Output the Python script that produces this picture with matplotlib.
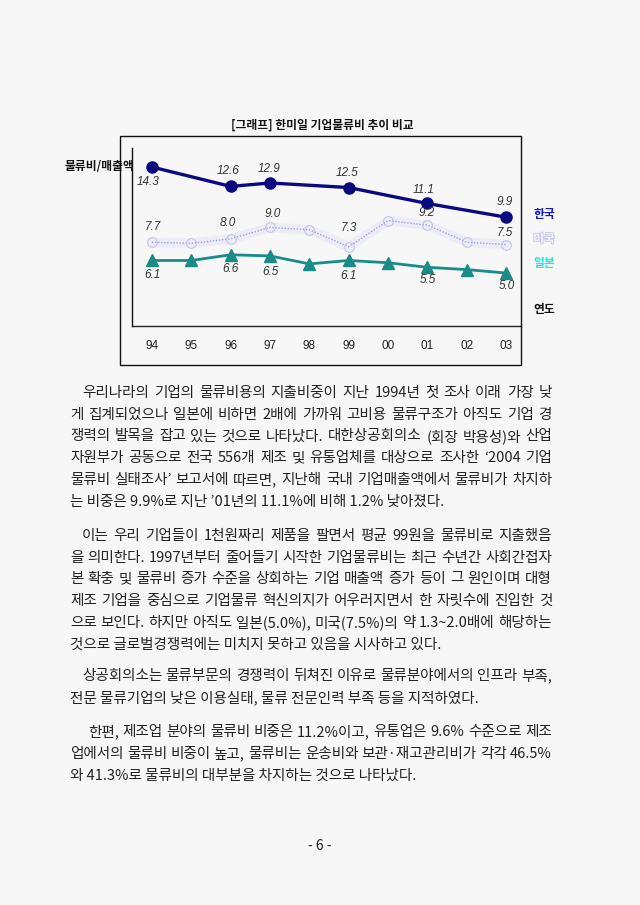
import matplotlib
matplotlib.use("Agg")
import matplotlib.pyplot as plt
import matplotlib.patheffects as pe
from matplotlib.patches import Rectangle

plt.rcParams['font.family'] = ['Noto Sans CJK KR', 'DejaVu Sans']

# ---------------- data ----------------
years = ['94', '95', '96', '97', '98', '99', '00', '01', '02', '03']
korea_years = ['94', '96', '97', '99', '01', '03']
korea = [14.3, 12.6, 12.9, 12.5, 11.1, 9.9]
usa = [7.7, 7.6, 8.0, 9.0, 8.8, 7.3, 9.6, 9.2, 7.7, 7.5]
japan = [6.1, 6.1, 6.6, 6.5, 5.8, 6.1, 5.9, 5.5, 5.3, 5.0]
label_years = ['94', '96', '97', '99', '01', '03']

title = '[그래프] 한미일 기업물류비 추이 비교'
ylabel = '물류비/매출액'
xlabel = '연도'
series_names = ['한국', '미국', '일본']

paragraphs = [
    ["우리나라의 기업의 물류비용의 지출비중이 지난 1994년 첫 조사 이래 가장 낮",
     "게 집계되었으나 일본에 비하면 2배에 가까워 고비용 물류구조가 아직도 기업 경",
     "쟁력의 발목을 잡고 있는 것으로 나타났다. 대한상공회의소 (회장 박용성)와 산업",
     "자원부가 공동으로 전국 556개 제조 및 유통업체를 대상으로 조사한 ‘2004 기업",
     "물류비 실태조사’ 보고서에 따르면, 지난해 국내 기업매출액에서 물류비가 차지하",
     "는 비중은 9.9%로 지난 ’01년의 11.1%에 비해 1.2% 낮아졌다."],
    ["이는 우리 기업들이 1천원짜리 제품을 팔면서 평균 99원을 물류비로 지출했음",
     "을 의미한다. 1997년부터 줄어들기 시작한 기업물류비는 최근 수년간 사회간접자",
     "본 확충 및 물류비 증가 수준을 상회하는 기업 매출액 증가 등이 그 원인이며 대형",
     "제조 기업을 중심으로 기업물류 혁신의지가 어우러지면서 한 자릿수에 진입한 것",
     "으로 보인다. 하지만 아직도 일본(5.0%), 미국(7.5%)의 약 1.3~2.0배에 해당하는",
     "것으로 글로벌경쟁력에는 미치지 못하고 있음을 시사하고 있다."],
    ["상공회의소는 물류부문의 경쟁력이 뒤쳐진 이유로 물류분야에서의 인프라 부족,",
     "전문 물류기업의 낮은 이용실태, 물류 전문인력 부족 등을 지적하였다."],
    ["한편, 제조업 분야의 물류비 비중은 11.2%이고, 유통업은 9.6% 수준으로 제조",
     "업에서의 물류비 비중이 높고, 물류비는 운송비와 보관·재고관리비가 각각 46.5%",
     "와 41.3%로 물류비의 대부분을 차지하는 것으로 나타났다."],
]
page_number = '- 6 -'

# ---------------- figure ----------------
W, H = 640, 905
BG = '#f7f7f7'
fig = plt.figure(figsize=(W / 100, H / 100), dpi=100, facecolor=BG)


def fx(px):
    return px / W


def fy(py):
    return 1 - py / H


# outer chart frame
fig.patches.append(Rectangle((fx(120), fy(365)), fx(521) - fx(120), fy(136) - fy(365),
                             transform=fig.transFigure, fill=False,
                             edgecolor='#111111', linewidth=1.0))

fig.text(fx(322), fy(125), title, ha='center', va='center', fontsize=8.5,
         fontweight='bold', color='#111111')

ax = fig.add_axes([fx(132), fy(326), fx(521) - fx(132), fy(148) - fy(326)])
ax.set_facecolor('none')
xi = {y: i for i, y in enumerate(years)}
ax.set_xlim(-0.508, 9.38)
ax.set_ylim(0.35, 15.97)
for s in ['top', 'right']:
    ax.spines[s].set_visible(False)
ax.spines['left'].set_color('#111111')
ax.spines['left'].set_linewidth(1.0)
ax.spines['bottom'].set_color('#222222')
ax.spines['bottom'].set_linewidth(1.0)
ax.spines['bottom'].set_linestyle((0, (1, 1)))
ax.set_yticks([])
ax.set_xticks(range(len(years)))
ax.set_xticklabels(years, family='Liberation Sans', fontsize=8.5, color='#222222')
ax.tick_params(axis='x', length=0, pad=10)

# USA: faint, blurry dotted line
xu = [xi[y] for y in years]
ax.plot(xu, usa, color='#ececf7', lw=7, solid_capstyle='round', zorder=1)
ax.plot(xu, usa, color='#a0a0da', lw=1.0, ls=(0, (1, 1.2)), zorder=2)
ax.plot(xu, usa, ls='none', marker='o', ms=7, mfc='none', mec='#c4c4ea',
        mew=0.8, zorder=2)

# Japan
ax.plot(xu, japan, color='#1a8c88', lw=2.0, marker='^', ms=8.5, mfc='#1a8c88',
        mec='#1a8c88', zorder=3)

# Korea
xk = [xi[y] for y in korea_years]
ax.plot(xk, korea, color='#0a0a80', lw=2.4, marker='o', ms=8, mfc='#0a0a80',
        mec='#0a0a80', zorder=4)

lab_style = dict(fontsize=8.5, style='italic', family='Liberation Sans',
                 color='#333333', ha='center', va='center', zorder=5)
k_off = [(-4, -15), (-3, 15), (-1, 14), (-2, 15), (-4, 13), (-1, 15)]
u_off = [(1, 15), (-3, 16), (3, 13), (0, 19), (-1, 12), (-1, 12)]
j_off = [(0, -15), (0, -14), (0, -16), (0, -16), (0, -13), (1, -13)]
for y, v, o in zip(korea_years, korea, k_off):
    ax.annotate(f'{v:.1f}', (xi[y], v), xytext=(o[0] * 0.72, o[1] * 0.72),
                textcoords='offset points', **lab_style)
for y, o in zip(label_years, u_off):
    v = usa[xi[y]]
    ax.annotate(f'{v:.1f}', (xi[y], v), xytext=(o[0] * 0.72, o[1] * 0.72),
                textcoords='offset points', **lab_style)
for y, o in zip(label_years, j_off):
    v = japan[xi[y]]
    ax.annotate(f'{v:.1f}', (xi[y], v), xytext=(o[0] * 0.72, o[1] * 0.72),
                textcoords='offset points', **lab_style)

# series name labels on the right
fig.text(fx(544), fy(214), series_names[0], ha='center', va='center', fontsize=8.5,
         fontweight='bold', color='#1414c8')
fig.text(fx(544), fy(239), series_names[1], ha='center', va='center', fontsize=8.5,
         fontweight='bold', color='#f4f4fb',
         path_effects=[pe.withStroke(linewidth=1.2, foreground='#c4c4ea')])
fig.text(fx(544), fy(264), series_names[2], ha='center', va='center', fontsize=8.5,
         fontweight='bold', color='#10e8ec')
fig.text(fx(544), fy(310), xlabel, ha='center', va='center', fontsize=8.5,
         fontweight='bold', color='#111111')
fig.text(fx(65), fy(167), ylabel, ha='left', va='center', fontsize=8.5,
         fontweight='bold', color='#111111')

# ---------------- body text (justified) ----------------
renderer = fig.canvas.get_renderer()
TXT = dict(fontsize=10.5, color='#222222', va='center', ha='left')


def text_width(s):
    t = fig.text(0, 0, s, **TXT)
    w = t.get_window_extent(renderer).width
    t.remove()
    return w


def draw_line(s, x0, x1, y, justify):
    if not justify:
        fig.text(fx(x0), fy(y), s, **TXT)
        return
    words = s.split(' ')
    widths = [text_width(w) for w in words]
    gap = (x1 - x0 - sum(widths)) / max(len(words) - 1, 1)
    x = x0
    for w, wd in zip(words, widths):
        fig.text(fx(x), fy(y), w, **TXT)
        x += wd + gap


LEFT, RIGHT = 70, 552
para_y = [393, 536, 676, 732]
indent = [82, 82, 82, 88]
LS = 21.7
for p, y0, ind in zip(paragraphs, para_y, indent):
    for i, line in enumerate(p):
        x0 = ind if i == 0 else LEFT
        draw_line(line, x0, RIGHT, y0 + i * LS, justify=(i < len(p) - 1))

fig.text(fx(320), fy(846), page_number, ha='center', va='center', fontsize=10,
         color='#222222')

fig.savefig('out.png', dpi=100, facecolor=BG)
